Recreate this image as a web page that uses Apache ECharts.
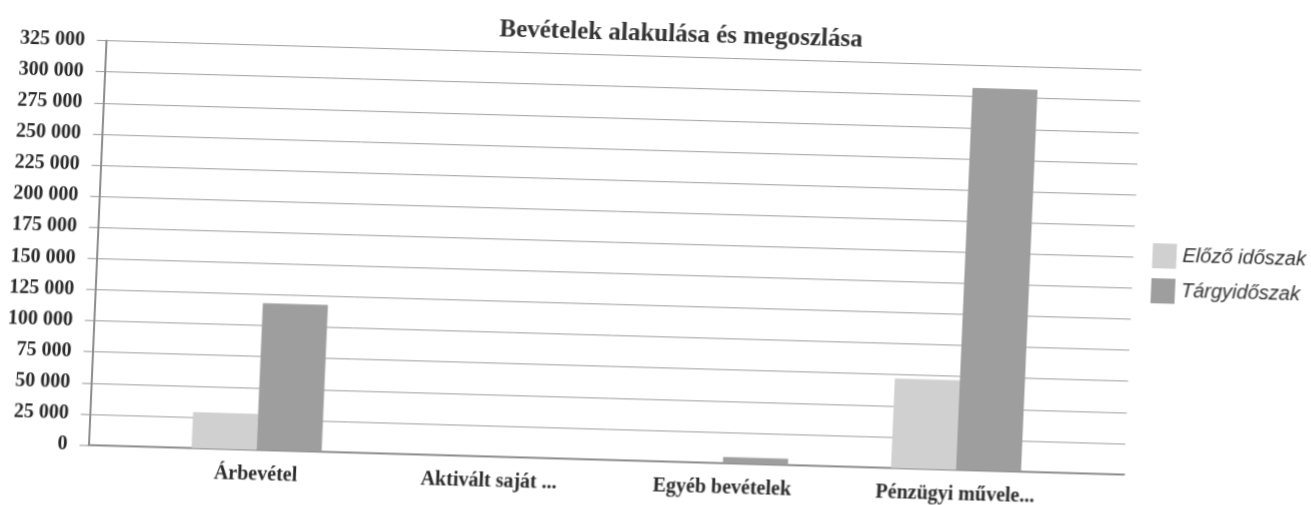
<!DOCTYPE html>
<html>
<head>
<meta charset="utf-8">
<script src="https://cdn.jsdelivr.net/npm/echarts@6/dist/echarts.min.js"></script>
<style>
  html, body { margin: 0; padding: 0; background: #fff; overflow: hidden; }
  /* the scanned page is slightly rotated and sheared */
  #chart {
    width: 1311px;
    height: 505px;
    transform-origin: 655px 252.5px;
    transform: matrix(1, 0.0285, -0.0433, 1, 0, 0);
  }
</style>
</head>
<body>
<div id="chart"></div>
<script>
// adatok
const categories = ['Árbevétel', 'Aktivált saját ...', 'Egyéb bevételek', 'Pénzügyi művele...']
const elozoIdoszak = [29000, 0, 0, 72000]
const targyIdoszak = [118000, 0, 5000, 307000]
const seriesNames = ['Előző időszak', 'Tárgyidőszak']

const yMin = 0
const yMax = 325000
const yStep = 25000

const fmt = v => String(v).replace(/\B(?=(\d{3})+(?!\d))/g, ' ')

const chart = echarts.init(document.getElementById('chart'))

const option = {
  backgroundColor: '#fff',
  animation: false,
  title: {
    text: 'Bevételek alakulása és megoszlása',
    left: 490,
    top: 22,
    padding: 0,
    textStyle: {
      fontFamily: 'Liberation Serif',
      fontSize: 25,
      fontWeight: 'bold',
      color: '#333'
    }
  },
  legend: {
    orient: 'vertical',
    left: 1152,
    top: 229,
    padding: 0,
    itemWidth: 24,
    itemHeight: 25,
    itemGap: 10,
    icon: 'rect',
    data: seriesNames,
    textStyle: {
      fontFamily: 'Liberation Sans',
      fontSize: 20,
      fontStyle: 'italic',
      color: '#333',
      padding: [0, 0, 0, 1]
    }
  },
  grid: [
    { left: 97.5, right: 178, top: 56.6, bottom: 44 },
    { left: 149, right: 229.4, top: 56.6, bottom: 44 }
  ],
  xAxis: [
    {
      gridIndex: 0,
      type: 'category',
      data: categories,
      axisLine: { show: true, lineStyle: { color: '#8c8c8c', width: 2 } },
      axisTick: { show: false },
      axisLabel: { show: false }
    },
    {
      gridIndex: 1,
      type: 'category',
      data: categories,
      axisLine: { show: false },
      axisTick: { show: false },
      axisLabel: {
        margin: 15,
        interval: 0,
        fontFamily: 'Liberation Serif',
        fontSize: 20,
        fontWeight: 'bold',
        color: '#2a2a2a'
      }
    }
  ],
  yAxis: [
    {
      gridIndex: 0,
      type: 'value',
      min: yMin,
      max: yMax,
      interval: yStep,
      axisLine: { show: true, lineStyle: { color: '#8c8c8c', width: 2 } },
      axisTick: { show: true, inside: false, length: 9, lineStyle: { color: '#999' } },
      splitLine: { show: true, lineStyle: { color: '#a0a0a0', width: 1 } },
      axisLabel: {
        margin: 21,
        formatter: fmt,
        fontFamily: 'Liberation Serif',
        fontSize: 20,
        fontWeight: 'bold',
        color: '#2a2a2a'
      }
    },
    {
      gridIndex: 1,
      type: 'value',
      min: yMin,
      max: yMax,
      interval: yStep,
      show: false,
      splitLine: { show: false }
    }
  ],
  series: [
    {
      name: seriesNames[0],
      type: 'bar',
      xAxisIndex: 1,
      yAxisIndex: 1,
      barWidth: 65,
      barGap: '0%',
      itemStyle: { color: '#d0d0d0' },
      data: elozoIdoszak
    },
    {
      name: seriesNames[1],
      type: 'bar',
      xAxisIndex: 1,
      yAxisIndex: 1,
      barWidth: 65,
      barGap: '0%',
      itemStyle: { color: '#9e9e9e' },
      data: targyIdoszak
    }
  ]
}

chart.setOption(option)
</script>
</body>
</html>
